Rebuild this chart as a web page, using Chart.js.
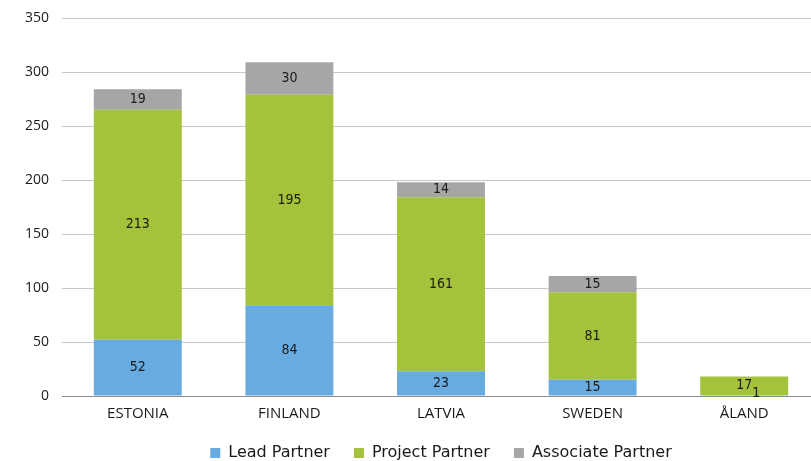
<!DOCTYPE html>
<html>
<head>
<meta charset="utf-8">
<script src="https://cdn.jsdelivr.net/npm/chart.js@4/dist/chart.umd.min.js"></script>
<style>
    html, body { margin: 0; padding: 0; background: #ffffff; overflow: hidden; }
    #wrap { width: 820px; height: 461px; position: relative; }
</style>
</head>
<body>
<div id="wrap"><canvas id="partnersChart"></canvas></div>
<script>
const countries = ["ESTONIA", "FINLAND", "LATVIA", "SWEDEN", "ÅLAND"];
const leadPartner = [52, 84, 23, 15, 1];
const projectPartner = [213, 195, 161, 81, 17];
const associatePartner = [19, 30, 14, 15, 0];
const yTicks = [0, 50, 100, 150, 200, 250, 300, 350];

// draws the value in the middle of every stacked segment
const segmentLabels = {
    id: "segmentLabels",
    afterDatasetsDraw: function (chart) {
        const ctx = chart.ctx;
        ctx.save();
        ctx.font = "14px 'DejaVu Sans Condensed', 'DejaVu Sans', sans-serif";
        ctx.fillStyle = "#1a1a1a";
        ctx.textAlign = "center";
        ctx.textBaseline = "middle";
        chart.data.datasets.forEach(function (ds, i) {
            const meta = chart.getDatasetMeta(i);
            meta.data.forEach(function (bar, j) {
                const v = ds.data[j];
                if (!v) return;
                const h = Math.abs(bar.base - bar.y);
                let x = bar.x;
                let y = (bar.y + bar.base) / 2;
                if (h < 6) {
                    x += 12;
                    y -= 2;
                }
                ctx.fillText(v, x, y);
            });
        });
        ctx.restore();
    }
};

document.addEventListener("DOMContentLoaded", function () {
    const ctx = document.getElementById("partnersChart").getContext("2d");

    new Chart(ctx, {
        type: "bar",
        data: {
            labels: countries,
            datasets: [{
                label: "Lead Partner",
                data: leadPartner,
                backgroundColor: "#68ABE0"
            }, {
                label: "Project Partner",
                data: projectPartner,
                backgroundColor: "#A4C23B"
            }, {
                label: "Associate Partner",
                data: associatePartner,
                backgroundColor: "#A6A6A6"
            }]
        },
        options: {
            responsive: true,
            maintainAspectRatio: false,
            animation: false,
            categoryPercentage: 1,
            barPercentage: 0.58,
            layout: {
                padding: { top: 18, right: 0, bottom: -10, left: 0 }
            },
            plugins: {
                tooltip: { enabled: false },
                legend: {
                    position: "bottom",
                    fullSize: false,
                    labels: {
                        boxWidth: 10,
                        boxHeight: 10,
                        padding: 24,
                        color: "#1a1a1a",
                        font: {
                            family: "'DejaVu Sans', sans-serif",
                            size: 16
                        }
                    }
                }
            },
            scales: {
                x: {
                    stacked: true,
                    grid: { display: false, drawTicks: false },
                    border: { display: true, color: "#8c8c8c", width: 1 },
                    ticks: {
                        color: "#1a1a1a",
                        padding: 9,
                        font: { family: "'Open Sans', sans-serif", size: 15 }
                    },
                    afterFit: function (scale) { scale.height = 25; }
                },
                y: {
                    stacked: true,
                    min: 0,
                    max: 350,
                    afterBuildTicks: function (scale) {
                        scale.ticks = yTicks.map(function (v) { return { value: v }; });
                    },
                    afterFit: function (scale) {
                        scale.width = 62;
                        scale.paddingTop = 0;
                        scale.paddingBottom = 0;
                    },
                    grid: {
                        color: "#c6c6c6",
                        drawTicks: false
                    },
                    border: { display: false },
                    ticks: {
                        color: "#1a1a1a",
                        padding: 13,
                        font: { family: "'Open Sans', sans-serif", size: 14 }
                    }
                }
            }
        },
        plugins: [segmentLabels]
    });
});
</script>
</body>
</html>
